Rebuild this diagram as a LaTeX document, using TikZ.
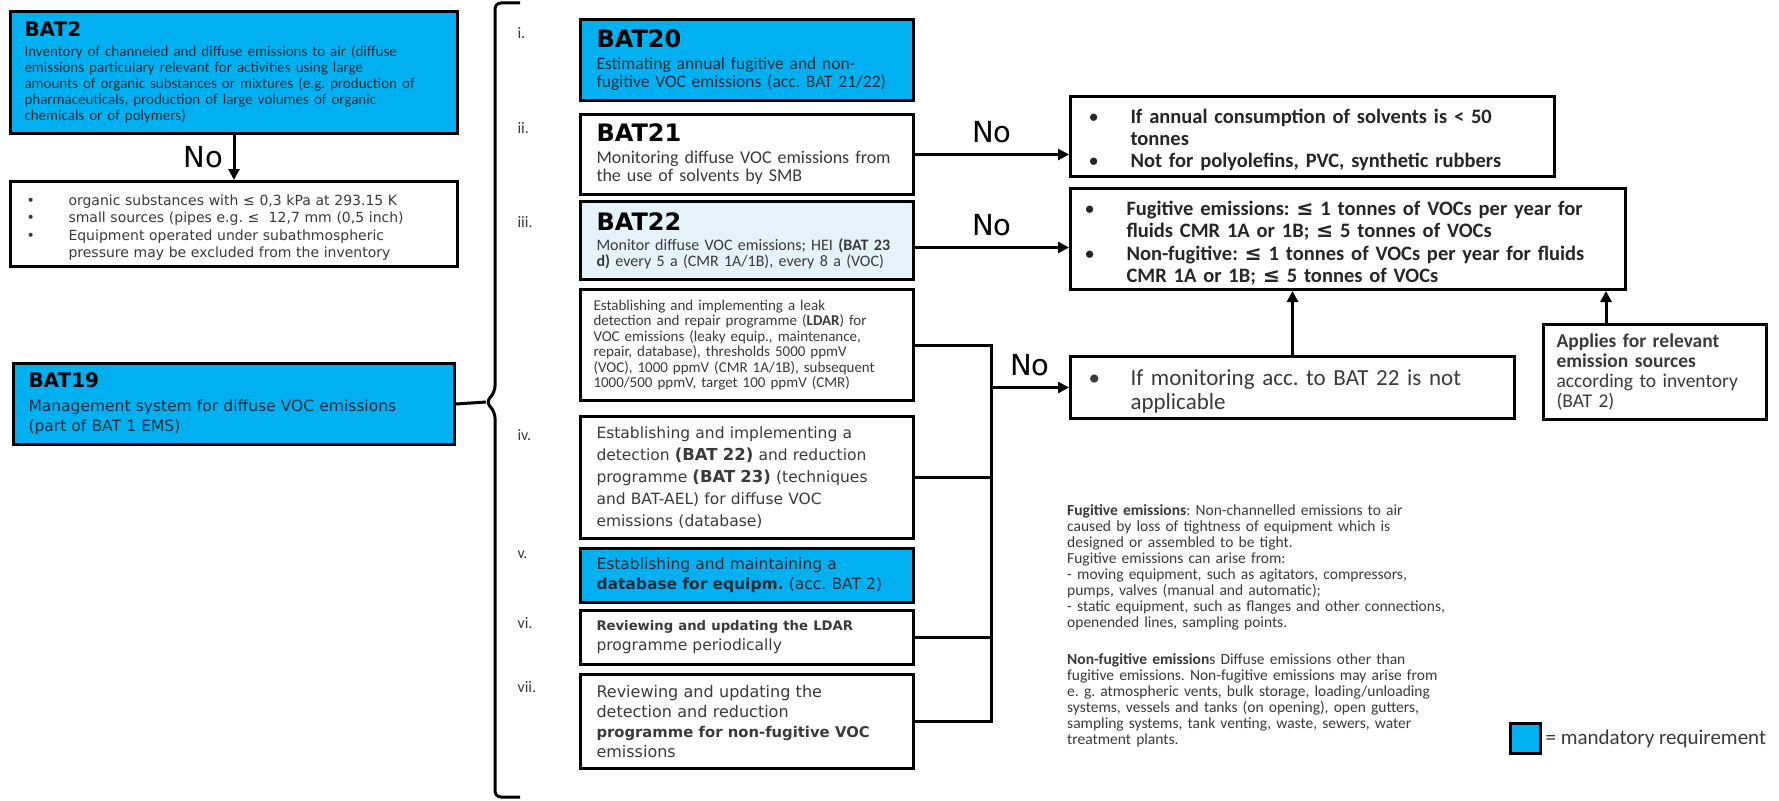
\documentclass[tikz,border=0pt]{standalone}
\usepackage{fontspec}
\setmainfont{Carlito}
\newfontfamily\dvs{DejaVu Sans}
\usetikzlibrary{arrows.meta}

\definecolor{batblue}{HTML}{00B0F0}
\definecolor{batlight}{HTML}{E4F3FA}
\definecolor{txtgrey}{HTML}{3A3A3A}
\definecolor{navytxt}{HTML}{1C2B39}

\newcommand{\bathead}[2][24]{{\dvs\bfseries\fontsize{#1}{#1}\selectfont\textcolor{black}{#2}\par}\vspace{4pt}}
\newcommand{\bitem}[1]{\par\noindent\makebox[42pt][l]{\mdseries\textbullet}\parbox[t]{\dimexpr\hsize-42pt\relax}{\raggedright #1\par\xdef\bitemdepth{\the\prevdepth}}\par\prevdepth=\bitemdepth\relax}
\newcommand{\lesign}{{\dvs ≤}}
\newcommand{\bigbf}[1]{{\fontsize{16.5}{22}\selectfont\bfseries #1}}
\newcommand{\smallbf}[2][13.8]{{\fontsize{#1}{20}\selectfont\bfseries #2}}

\begin{document}
\frenchspacing
\begin{tikzpicture}[x=1pt, y=-1pt,
  box/.style={draw, line width=3pt, anchor=north west, inner ysep=0pt, inner xsep=16pt, align=left, text=txtgrey},
  bluebox/.style={box, fill=batblue, text=navytxt},
  lightbox/.style={box, fill=batlight},
  mid/.style={minimum width=333pt, inner xsep=16pt, text width=301pt},
  conn/.style={line width=3pt},
  arr/.style={conn, -{Triangle[length=11pt, width=11pt]}},
  nolabel/.style={font=\dvs\fontsize{29}{32}\selectfont, text=black},
  roman/.style={anchor=west, font=\fontsize{16}{18}\selectfont, text=txtgrey}]
\path[use as bounding box, fill=white] (0,0) rectangle (1779,800);

% left column
\node[bluebox, minimum width=447pt, minimum height=122pt, inner xsep=14pt, text width=419pt, font=\fontsize{15}{16}\selectfont] (bat2) at (9,10) {\bathead[20]{BAT2}Inventory of channeled and diffuse emissions to air (diffuse\\emissions particulary relevant for activities using large\\amounts of organic substances or mixtures (e.g. production of\\pharmaceuticals, production of large volumes of organic\\chemicals or of polymers)};
\node[box, minimum width=447pt, minimum height=85pt, inner xsep=16pt, text width=415pt, font=\dvs\fontsize{14}{17.5}\selectfont] (inv) at (9,180) {\bitem{organic substances with ≤ 0,3 kPa at 293.15 K}\bitem{small sources (pipes e.g. ≤~ 12,7 mm (0,5 inch)}\bitem{Equipment operated under subathmospheric\\pressure may be excluded from the inventory}};
\node[bluebox, minimum width=441pt, minimum height=81pt, inner xsep=15pt, text width=411pt, font=\dvs\fontsize{15.5}{20}\selectfont] (bat19) at (12,362) {\bathead[20]{BAT19}Management system for diffuse VOC emissions\\(part of BAT 1 EMS)};

% middle column
\node[bluebox, mid, minimum height=81pt, font=\fontsize{17.5}{18}\selectfont] (bat20) at (579,18) {\bathead{BAT20}Estimating annual fugitive and non-\\fugitive VOC emissions (acc. BAT 21/22)};
\node[box, mid, minimum height=80pt, font=\fontsize{18}{18}\selectfont] (bat21) at (579,113) {\bathead{BAT21}Monitoring diffuse VOC emissions from\\the use of solvents by SMB};
\node[lightbox, mid, minimum height=78pt, font=\fontsize{16}{16}\selectfont] (bat22) at (579,200) {\bathead{BAT22}Monitor diffuse VOC emissions; HEI \textbf{(BAT 23}\\\textbf{d)} every 5 a (CMR 1A/1B), every 8 a (VOC)};
\node[box, mid, minimum height=111pt, inner xsep=13pt, text width=307pt, font=\fontsize{15}{15.5}\selectfont] (ldar) at (579,288) {Establishing and implementing a leak\\detection and repair programme (\textbf{LDAR}) for\\VOC emissions (leaky equip., maintenance,\\repair, database), thresholds 5000 ppmV\\(VOC), 1000 ppmV (CMR 1A/1B), subsequent\\1000/500 ppmV, target 100 ppmV (CMR)};
\node[box, mid, minimum height=122pt, font=\dvs\fontsize{15.5}{22}\selectfont] (detect) at (579,415) {Establishing and implementing a\\detection \bigbf{(BAT 22)} and reduction\\programme \bigbf{(BAT 23)} (techniques\\and BAT-AEL) for diffuse VOC\\emissions (database)};
\node[bluebox, mid, minimum height=54pt, font=\dvs\fontsize{15.5}{20}\selectfont] (dbase) at (579,547) {Establishing and maintaining a\\\textbf{database for equipm.} (acc. BAT 2)};
\node[box, mid, minimum height=54pt, font=\dvs\fontsize{15.5}{20}\selectfont] (review) at (579,609) {\smallbf[13.2]{Reviewing and updating the LDAR}\\programme periodically};
\node[box, mid, minimum height=94pt, font=\dvs\fontsize{16}{20}\selectfont] (nonfug) at (579,673) {Reviewing and updating the\\detection and reduction\\\smallbf[14.8]{programme for non-fugitive VOC}\\emissions};

% numbering
\foreach \lbl/\yy [count=\k] in {i./33, ii./128, iii./222, iv./435, v./555, vi./623, vii./687}
  \node[roman] (r\k) at (514,\yy) {\lbl};

% right column
\node[box, minimum width=484pt, minimum height=80pt, inner xsep=18pt, text width=448pt, text=black!85, font=\bfseries\fontsize{20.5}{22}\selectfont] (solv) at (1069,95) {\bitem{If annual consumption of solvents is < 50\\tonnes}\bitem{Not for polyolefins, PVC, synthetic rubbers}};
\node[box, minimum width=555pt, minimum height=101pt, inner xsep=14pt, text width=527pt, text=black!85, font=\bfseries\fontsize{20.5}{22.5}\selectfont] (thresh) at (1069,187) {\bitem{Fugitive emissions: \lesign{} 1 tonnes of VOCs per year for\\fluids CMR 1A or 1B; \lesign{} 5 tonnes of VOCs}\bitem{Non-fugitive: \lesign{} 1 tonnes of VOCs per year for fluids\\CMR 1A or 1B; \lesign{} 5 tonnes of VOCs}};
\node[box, minimum width=444pt, minimum height=62pt, inner xsep=18pt, text width=408pt, font=\fontsize{23}{24}\selectfont] (notappl) at (1069,355) {\bitem{If monitoring acc. to BAT 22 is not\\applicable}};
\node[box, minimum width=223pt, minimum height=95pt, inner xsep=13pt, text width=197pt, font=\fontsize{19.5}{20}\selectfont] (applies) at (1542,323) {\textbf{Applies for relevant}\\\textbf{emission sources}\\according to inventory\\(BAT 2)};

% definitions and legend
\node[anchor=north west, inner sep=0pt, text width=420pt, align=left, text=txtgrey, font=\fontsize{15.5}{16}\selectfont] (defs) at (1067,504) {\textbf{Fugitive emissions}: Non-channelled emissions to air\\caused by loss of tightness of equipment which is\\designed or assembled to be tight.\\Fugitive emissions can arise from:\\- moving equipment, such as agitators, compressors,\\pumps, valves (manual and automatic);\\- static equipment, such as flanges and other connections,\\openended lines, sampling points.\\[21pt]\textbf{Non-fugitive emission}s Diffuse emissions other than\\fugitive emissions. Non-fugitive emissions may arise from\\e. g. atmospheric vents, bulk storage, loading/unloading\\systems, vessels and tanks (on opening), open gutters,\\sampling systems, tank venting, waste, sewers, water\\treatment plants.};
\node[bluebox, minimum width=30pt, minimum height=30pt, inner sep=0pt] (legsq) at (1509,722) {};
\node[anchor=west, text=txtgrey, font=\fontsize{21}{22}\selectfont] (legtxt) at (legsq.east) {= mandatory requirement};

% brace
\coordinate (brace tip) at (486,402);
\draw[conn, rounded corners=6pt] (520,3) -- (495,3) -- (495,392) -- (brace tip) -- (495,412) -- (495,797) -- (520,797);

% connections
\draw[arr] (bat2.south) -- (inv.north) node[midway, left=6pt, nolabel] {No};
\draw[conn] (bat19.east) -- (brace tip);
\draw[arr] (bat21.east) -- (bat21.east -| solv.west) node[midway, above=7pt, nolabel] {No};
\draw[arr] ([yshift=-7pt]bat22.east) -- ([yshift=-7pt]bat22.east -| thresh.west) node[midway, above=7pt, nolabel] {No};
\coordinate (bus) at (991,0);
\draw[conn] (ldar.east) -| (bus |- nonfug.east) -- (nonfug.east);
\draw[conn] (detect.east) -- (detect.east -| bus);
\draw[conn] (review.east) -- (review.east -| bus);
\draw[arr] (bus |- notappl.west) -- (notappl.west) node[midway, above=7pt, nolabel] {No};
\draw[arr] (notappl.north) -- (notappl.north |- thresh.south);
\draw[arr] ([xshift=-49pt]applies.north) -- ([xshift=-49pt]applies.north |- thresh.south);

\end{tikzpicture}
\end{document}
